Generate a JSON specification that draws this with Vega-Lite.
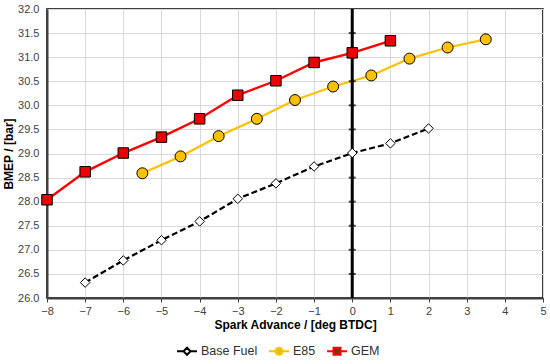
{
  "$schema": "https://vega.github.io/schema/vega-lite/v6.json",
  "width": 496,
  "height": 289,
  "padding": {"left": 2, "top": 3, "right": 2, "bottom": 2},
  "background": "white",
  "config": {
    "font": "Liberation Sans",
    "view": {"stroke": "#000000", "strokeWidth": 1.5},
    "axis": {
      "labelFont": "Liberation Sans",
      "labelFontSize": 11,
      "labelColor": "#404040",
      "labelOverlap": false,
      "labelSeparation": 0,
      "labelBound": false,
      "labelFlush": false,
      "titleFont": "Liberation Sans",
      "titleFontSize": 12,
      "titleFontWeight": "bold",
      "titleColor": "#000000",
      "gridColor": "#d9d9d9",
      "gridWidth": 1,
      "domainColor": "#404040",
      "domainWidth": 2,
      "tickColor": "#404040"
    },
    "axisQuantitative": {"labelOverlap": false}
  },
  "datasets": {
    "fuel": [
      {"series": "Base Fuel", "x": -7, "y": 26.32},
      {"series": "Base Fuel", "x": -6, "y": 26.78},
      {"series": "Base Fuel", "x": -5, "y": 27.2},
      {"series": "Base Fuel", "x": -4, "y": 27.59},
      {"series": "Base Fuel", "x": -3, "y": 28.06},
      {"series": "Base Fuel", "x": -2, "y": 28.38},
      {"series": "Base Fuel", "x": -1, "y": 28.73},
      {"series": "Base Fuel", "x": 0, "y": 29.01},
      {"series": "Base Fuel", "x": 1, "y": 29.21},
      {"series": "Base Fuel", "x": 2, "y": 29.52},
      {"series": "E85", "x": -5.5, "y": 28.59},
      {"series": "E85", "x": -4.5, "y": 28.94},
      {"series": "E85", "x": -3.5, "y": 29.36},
      {"series": "E85", "x": -2.5, "y": 29.72},
      {"series": "E85", "x": -1.5, "y": 30.11},
      {"series": "E85", "x": -0.5, "y": 30.39},
      {"series": "E85", "x": 0.5, "y": 30.62},
      {"series": "E85", "x": 1.5, "y": 30.97},
      {"series": "E85", "x": 2.5, "y": 31.2},
      {"series": "E85", "x": 3.5, "y": 31.37},
      {"series": "GEM", "x": -8, "y": 28.04},
      {"series": "GEM", "x": -7, "y": 28.62},
      {"series": "GEM", "x": -6, "y": 29.01},
      {"series": "GEM", "x": -5, "y": 29.34},
      {"series": "GEM", "x": -4, "y": 29.72},
      {"series": "GEM", "x": -3, "y": 30.21},
      {"series": "GEM", "x": -2, "y": 30.51},
      {"series": "GEM", "x": -1, "y": 30.89},
      {"series": "GEM", "x": 0, "y": 31.09},
      {"series": "GEM", "x": 1, "y": 31.34}
    ],
    "zeroTicks": [
      {"y": 26.5}, {"y": 27}, {"y": 27.5}, {"y": 28}, {"y": 28.5}, {"y": 29},
      {"y": 29.5}, {"y": 30}, {"y": 30.5}, {"y": 31}, {"y": 31.5}
    ]
  },
  "layer": [
    {
      "data": {"name": "fuel"},
      "transform": [{"filter": "datum.series === 'Base Fuel'"}],
      "mark": {"type": "line", "strokeWidth": 2.2, "color": "#000000", "strokeDash": [6, 3]},
      "encoding": {
        "x": {
          "field": "x", "type": "quantitative",
          "scale": {"domain": [-8, 5], "nice": false, "zero": false},
          "axis": {
            "title": "Spark Advance / [deg BTDC]",
            "values": [-8, -7, -6, -5, -4, -3, -2, -1, 0, 1, 2, 3, 4, 5],
            "tickCount": 14,
            "format": "d",
            "labelOverlap": false,
            "tickSize": 4,
            "labelPadding": 3,
            "titlePadding": 3
          }
        },
        "y": {
          "field": "y", "type": "quantitative",
          "scale": {"domain": [26, 32], "nice": false, "zero": false},
          "axis": {
            "title": "BMEP / [bar]",
            "values": [26, 26.5, 27, 27.5, 28, 28.5, 29, 29.5, 30, 30.5, 31, 31.5, 32],
            "tickCount": 13,
            "format": ".1f",
            "labelOverlap": false,
            "tickSize": 0,
            "labelPadding": 8,
            "titlePadding": 2
          }
        }
      }
    },
    {
      "data": {"name": "fuel"},
      "transform": [{"filter": "datum.series === 'E85'"}],
      "mark": {"type": "line", "strokeWidth": 2.2, "color": "#FFC000"},
      "encoding": {
        "x": {"field": "x", "type": "quantitative"},
        "y": {"field": "y", "type": "quantitative"}
      }
    },
    {
      "data": {"name": "fuel"},
      "transform": [{"filter": "datum.series === 'GEM'"}],
      "mark": {"type": "line", "strokeWidth": 2.4, "color": "#FF0000"},
      "encoding": {
        "x": {"field": "x", "type": "quantitative"},
        "y": {"field": "y", "type": "quantitative"}
      }
    },
    {
      "data": {"values": [{}]},
      "mark": {"type": "rule", "color": "#000000", "strokeWidth": 3},
      "encoding": {"x": {"datum": 0, "type": "quantitative"}}
    },
    {
      "data": {"name": "zeroTicks"},
      "mark": {"type": "tick", "orient": "horizontal", "color": "#000000", "size": 7, "thickness": 2},
      "encoding": {
        "x": {"datum": 0, "type": "quantitative"},
        "y": {"field": "y", "type": "quantitative"}
      }
    },
    {
      "data": {"name": "fuel"},
      "transform": [{"filter": "datum.series === 'Base Fuel'"}],
      "mark": {"type": "point", "shape": "diamond", "filled": true, "fill": "#ffffff", "stroke": "#000000", "strokeWidth": 1, "size": 90, "opacity": 1},
      "encoding": {
        "x": {"field": "x", "type": "quantitative"},
        "y": {"field": "y", "type": "quantitative"}
      }
    },
    {
      "data": {"name": "fuel"},
      "transform": [{"filter": "datum.series === 'E85'"}],
      "mark": {"type": "point", "shape": "circle", "filled": true, "fill": "#FFC000", "stroke": "#000000", "strokeWidth": 1, "size": 120, "opacity": 1},
      "encoding": {
        "x": {"field": "x", "type": "quantitative"},
        "y": {"field": "y", "type": "quantitative"}
      }
    },
    {
      "data": {"name": "fuel"},
      "transform": [{"filter": "datum.series === 'GEM'"}],
      "mark": {"type": "point", "shape": "square", "filled": true, "fill": "#EE0000", "stroke": "#000000", "strokeWidth": 1, "size": 110, "opacity": 1},
      "encoding": {
        "x": {"field": "x", "type": "quantitative"},
        "y": {"field": "y", "type": "quantitative"}
      }
    },
    {
      "data": {"name": "fuel"},
      "transform": [{"filter": "datum.y > 100"}],
      "mark": {"type": "point", "filled": true, "strokeWidth": 2},
      "encoding": {
        "x": {"field": "x", "type": "quantitative"},
        "y": {"field": "y", "type": "quantitative"},
        "shape": {
          "field": "series", "type": "nominal",
          "scale": {
            "domain": ["Base Fuel", "E85", "GEM"],
            "range": [
              "M-1,0H-0.35M0.35,0H1M0,-0.35L0.35,0L0,0.35L-0.35,0Z",
              "M-1,0H-0.35M0.35,0H1M0.35,0A0.35,0.35,0,1,1,-0.35,0A0.35,0.35,0,1,1,0.35,0Z",
              "M-1,0H-0.35M0.35,0H1M-0.35,-0.35H0.35V0.35H-0.35Z"
            ]
          },
          "legend": {
            "title": null,
            "orient": "none",
            "legendX": 129,
            "legendY": 331,
            "direction": "horizontal",
            "symbolSize": 400,
            "symbolStrokeWidth": 2,
            "symbolOpacity": 1,
            "labelFont": "Liberation Sans",
            "labelFontSize": 12.5,
            "labelColor": "#303030",
            "labelOffset": 3,
            "columnPadding": 7,
            "padding": 0
          }
        },
        "fill": {
          "field": "series", "type": "nominal",
          "scale": {"domain": ["Base Fuel", "E85", "GEM"], "range": ["#ffffff", "#D4C800", "#6B3A10"]}
        },
        "stroke": {
          "field": "series", "type": "nominal",
          "scale": {"domain": ["Base Fuel", "E85", "GEM"], "range": ["#000000", "#FFC000", "#FF0000"]}
        }
      }
    }
  ]
}
